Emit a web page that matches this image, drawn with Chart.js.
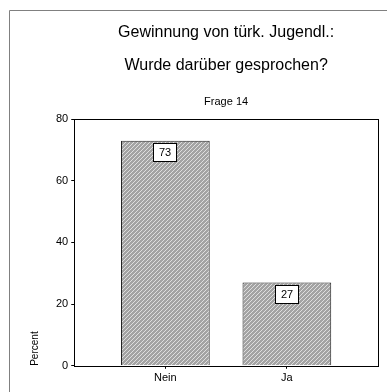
<!DOCTYPE html>
<html>
<head>
<meta charset="utf-8">
<script src="https://cdn.jsdelivr.net/npm/chart.js@4"></script>
<style>
  html, body { margin:0; padding:0; background:#fff; }
  #wrap { position:relative; width:387px; height:392px; }
</style>
</head>
<body>
<div id="wrap"><canvas id="chart"></canvas></div>
<script>
/* ===== Data ===== */
const categories = ['Nein', 'Ja'];
const percents = [73, 27];
const yTicks = [0, 20, 40, 60, 80];
const titleLines = ['Gewinnung von türk. Jugendl.:', 'Wurde darüber gesprochen?'];
const subtitleText = 'Frage 14';
const yTitle = 'Percent';

const FONT = "'Liberation Sans', Arial, Helvetica, sans-serif";

/* ===== Hatch fill for the bars ===== */
function hatch(){
  const c = document.createElement('canvas'); c.width = 4; c.height = 4;
  const g = c.getContext('2d');
  g.fillStyle = '#a3a3a3'; g.fillRect(0,0,4,4);
  g.fillStyle = '#dedede';
  for (let i=0;i<4;i++) g.fillRect(3-i, i, 1, 1);
  return g.createPattern(c, 'repeat');
}

/* ===== Plugins: outer frame, plot box, value boxes ===== */
const frame = {
  id:'frame',
  beforeDraw(chart){
    const ctx = chart.ctx;
    ctx.save();
    ctx.strokeStyle = '#808080'; ctx.lineWidth = 1;
    ctx.beginPath(); ctx.moveTo(9.5, chart.height); ctx.lineTo(9.5, 10.5); ctx.lineTo(chart.width, 10.5); ctx.stroke();
    ctx.restore();
  },
  afterDatasetsDraw(chart){
    const {ctx, chartArea:a} = chart;
    ctx.save();
    ctx.strokeStyle = '#000'; ctx.lineWidth = 1;
    ctx.strokeRect(Math.round(a.left)+0.5, Math.round(a.top)+0.5, Math.round(a.right-a.left), Math.round(a.bottom-a.top));
    // value boxes at the top of each bar
    ctx.font = '11px ' + FONT;
    ctx.textAlign = 'center'; ctx.textBaseline = 'middle';
    chart.getDatasetMeta(0).data.forEach((bar, i) => {
      const x = Math.round(bar.x), y = Math.round(bar.y);
      ctx.fillStyle = '#fff';
      ctx.fillRect(x-12, y+2, 24, 19);
      ctx.strokeRect(x-11.5, y+2.5, 23, 18);
      ctx.fillStyle = '#000';
      ctx.fillText(String(percents[i]), x, y+12);
    });
    ctx.restore();
  }
};

new Chart(document.getElementById('chart'), {
  type:'bar',
  data:{
    datasets:[{
      data: percents.map((v,i)=>({x:i, y:v})),
      backgroundColor: hatch(),
      borderColor:'#222',
      borderWidth:1,
      categoryPercentage:1,
      barPercentage:0.73
    }]
  },
  options:{
    responsive:true, maintainAspectRatio:false, animation:false,
    layout:{ padding:{ left:0, right:9, top:0, bottom:4 } },
    plugins:{
      legend:{ display:false },
      tooltip:{ enabled:false },
      title:{ display:true, fullSize:false, text:titleLines, color:'#000', font:{ family:FONT, size:16, weight:'normal', lineHeight:2.06 }, padding:{ top:16, bottom:13 } },
      subtitle:{ display:true, fullSize:false, text:subtitleText, color:'#000', font:{ family:FONT, size:11, weight:'normal', lineHeight:1.2 }, padding:{ top:0, bottom:11 } }
    },
    scales:{
      x:{
        type:'linear', min:-0.75, max:1.75, offset:false,
        afterBuildTicks: s => { s.ticks = categories.map((c,i)=>({value:i})); },
        grid:{ display:true, offset:false, drawOnChartArea:false, tickLength:3, color:'#000' },
        border:{ display:false },
        ticks:{ color:'#000', padding:3, maxRotation:0, font:{ family:FONT, size:11 }, callback: v => categories[v] }
      },
      y:{
        min:0, max:80,
        afterBuildTicks: s => { s.ticks = yTicks.map(v=>({value:v})); },
        grid:{ display:true, drawOnChartArea:false, tickLength:3, color:'#000' },
        border:{ display:false },
        ticks:{ color:'#000', padding:3, font:{ family:FONT, size:11 } },
        title:{ display:true, text:yTitle, align:'start', color:'#000', font:{ family:FONT, size:10 }, padding:{ top:29, bottom:12 } }
      }
    }
  },
  plugins:[frame]
});
</script>
</body>
</html>
